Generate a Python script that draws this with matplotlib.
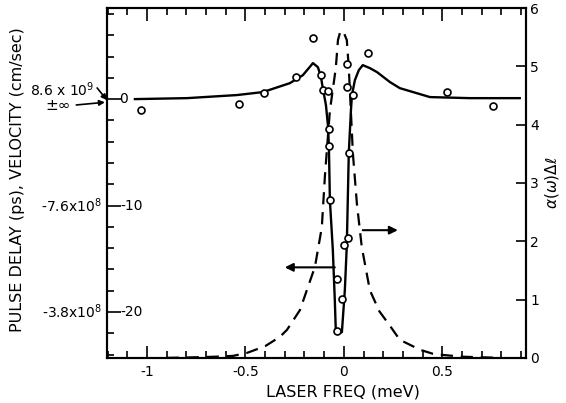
import matplotlib
matplotlib.use("Agg")
import matplotlib.pyplot as plt
from matplotlib.ticker import FixedLocator, MultipleLocator

# measured pulse delay (ps) against laser detuning (meV)
freq_pts = [-1.03, -0.533, -0.406, -0.244, -0.157, -0.117, -0.107, -0.081,
            -0.076, -0.076, -0.071, -0.036, -0.010, -0.036, 0.000, 0.020,
            0.025, 0.046, 0.015, 0.015, 0.122, 0.523, 0.756]
delay_pts = [-1.03, -0.47, 0.56, 2.07, 5.73, 2.25, 0.85, 0.75,
             -2.8, -4.4, -9.5, -16.9, -18.8, -21.8, -13.7, -13.05,
             -5.07, 0.38, 1.13, 3.29, 4.32, 0.66, -0.66]

# calculated delay curve
freq_fit = [-1.061, -0.797, -0.543, -0.411, -0.274, -0.208, -0.157, -0.132,
            -0.117, -0.107, -0.091, -0.081, -0.076, -0.071, -0.056, -0.046,
            -0.041, -0.030, -0.010, 0.005, 0.015, 0.025, 0.036, 0.041,
            0.056, 0.076, 0.096, 0.132, 0.168, 0.234, 0.284, 0.437, 0.640, 0.893]
delay_fit = [0.0, 0.09, 0.38, 0.66, 1.50, 2.25, 3.38, 3.0,
             2.16, 1.03, -0.56, -2.44, -4.41, -9.48, -14.18, -18.87,
             -21.69, -22.07, -21.88, -17.93, -13.71, -5.07, -1.03, 0.38,
             1.78, 2.72, 3.19, 2.91, 2.54, 1.60, 1.03, 0.19, 0.09, 0.09]

# absorption line alpha(w) * delta l
freq_abs = [-0.90, -0.75, -0.65, -0.563, -0.492, -0.40, -0.325, -0.289, -0.223,
            -0.147, -0.132, -0.112, -0.096, -0.071, -0.041, -0.030, -0.018,
            -0.003, 0.015, 0.025, 0.046, 0.066, 0.091, 0.132, 0.180, 0.234,
            0.284, 0.386, 0.452, 0.503, 0.60, 0.80]
alpha_abs = [0.0, 0.01, 0.02, 0.034, 0.085, 0.20, 0.36, 0.48, 0.82,
             1.56, 1.85, 2.24, 3.13, 4.24, 4.97, 5.45, 5.60,
             5.60, 5.45, 4.97, 3.50, 2.65, 1.90, 1.16, 0.80, 0.55,
             0.31, 0.14, 0.07, 0.05, 0.02, 0.0]

fig = plt.figure(figsize=(5.66, 4.03), dpi=100)
ax = fig.add_axes([0.189, 0.112, 0.740, 0.868])
ax2 = ax.twinx()
ax.set_zorder(ax2.get_zorder() + 1)
ax.patch.set_visible(False)

ax2.plot(freq_abs, alpha_abs, color="k", lw=1.6, linestyle=(0, (5.5, 3.5)))
ax.plot(freq_fit, delay_fit, color="k", lw=1.7)
ax.plot(freq_pts, delay_pts, "o", mfc="white", mec="k", ms=5, mew=1.2)

ax.set_xlim(-1.203, 0.924)
ax.set_ylim(-24.3, 8.55)
ax2.set_ylim(0, 6.0)

for spine in ax.spines.values():
    spine.set_linewidth(1.5)
for spine in ax2.spines.values():
    spine.set_linewidth(1.5)

ax.xaxis.set_major_locator(FixedLocator([-1, -0.5, 0, 0.5]))
ax.set_xticklabels(["-1", "-0.5", "0", "0.5"], fontsize=10)
ax.xaxis.set_minor_locator(MultipleLocator(0.1))
ax.tick_params(axis="x", which="both", direction="in", top=True, bottom=True, width=1.2)
ax.tick_params(axis="x", which="major", length=9, pad=5)
ax.tick_params(axis="x", which="minor", length=5)

ax.set_yticks([0, -10, -20])
ax.yaxis.set_minor_locator(MultipleLocator(2))
ax.tick_params(axis="y", which="both", direction="in", left=True, right=False,
               labelleft=False, width=1.2)
ax.tick_params(axis="y", which="major", length=10)
ax.tick_params(axis="y", which="minor", length=5)

ax2.set_yticks(range(7))
ax2.tick_params(axis="y", direction="in", length=7, width=1.2, pad=3, labelsize=10)

# delay labels sit inside the frame, velocity labels outside
ytr = ax.get_yaxis_transform()
for val, lab, xpos in [(0, "0", 0.030), (-10, "-10", 0.033), (-20, "-20", 0.033)]:
    ax.text(xpos, val, lab, transform=ytr, ha="left", va="center", fontsize=10)
ax.text(-0.012, -10, r"-7.6x10$^8$", transform=ytr, ha="right", va="center", fontsize=10)
ax.text(-0.012, -20, r"-3.8x10$^8$", transform=ytr, ha="right", va="center", fontsize=10)

ax.annotate(r"8.6 x 10$^9$", xy=(0.0, -0.1), xycoords=ytr,
            xytext=(-0.107, 0.85), textcoords=ytr, ha="center", va="center", fontsize=10,
            arrowprops=dict(arrowstyle="-|>", color="k", lw=1.2, mutation_scale=8,
                            relpos=(1.0, 0.8), shrinkA=0, shrinkB=0))
ax.annotate("\u00b1\u221e", xy=(-0.005, -0.3), xycoords=ytr,
            xytext=(-0.117, -0.6), textcoords=ytr, ha="center", va="center", fontsize=11,
            arrowprops=dict(arrowstyle="-|>", color="k", lw=1.2, mutation_scale=8,
                            relpos=(1.0, 0.5), shrinkA=2, shrinkB=0))

# arrows showing which curve goes with which axis
ax.annotate("", xy=(-0.30, -15.8), xytext=(-0.046, -15.8),
            arrowprops=dict(arrowstyle="-|>", color="k", lw=1.5, mutation_scale=12,
                            shrinkA=0, shrinkB=0))
ax2.annotate("", xy=(0.274, 2.19), xytext=(0.096, 2.19),
             arrowprops=dict(arrowstyle="-|>", color="k", lw=1.5, mutation_scale=12,
                             shrinkA=0, shrinkB=0))

ax.set_xlabel("LASER FREQ (meV)", fontsize=11.5)
ax.xaxis.set_label_coords(0.563, -0.075)
ax.set_ylabel("PULSE DELAY (ps), VELOCITY (cm/sec)", fontsize=11.5)
ax.yaxis.set_label_coords(-0.196, 0.509)
ax2.set_ylabel(r"$\alpha(\omega)\Delta\ell$", fontsize=11)
ax2.yaxis.set_label_coords(1.04, 0.5)

fig.savefig("out.png", dpi=100)
